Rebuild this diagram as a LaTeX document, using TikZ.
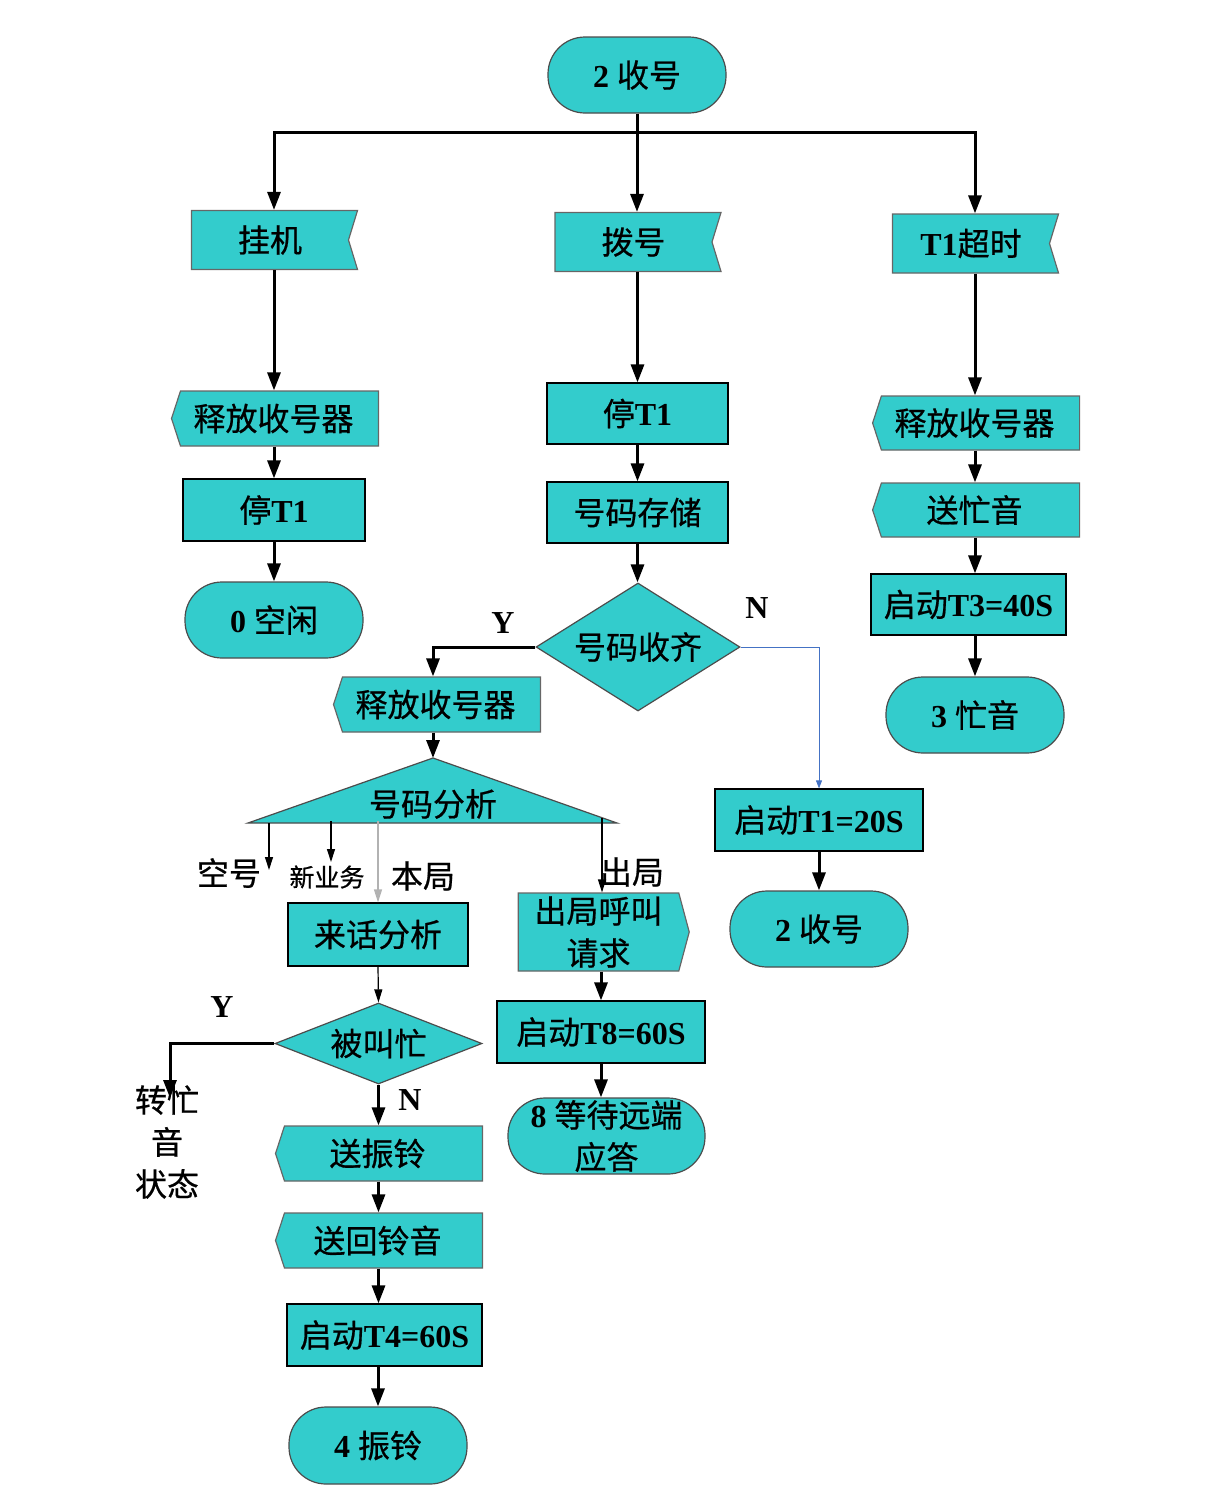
\documentclass[tikz,border=0pt]{standalone}
\usepackage{fontspec}
\setmainfont{Liberation Serif}
\newfontfamily\cjkfont{Noto Sans CJK SC}[FakeBold=0.6]
\usetikzlibrary{arrows.meta,positioning,shapes.geometric,shapes.symbols}
\definecolor{SoftTeal}{RGB}{51,204,204}
\definecolor{LineBlue}{RGB}{68,114,196}
\newcommand{\zh}[1]{{\cjkfont\mdseries #1}}

\begin{document}
\begin{tikzpicture}[x=1pt,y=-1pt,
    every node/.style={font=\fontsize{32}{42}\selectfont\bfseries, inner sep=0pt},
    term/.style={draw=black!70, fill=SoftTeal, line width=1.2pt, rounded corners=37pt, minimum width=178pt, minimum height=76pt},
    proc/.style={draw, fill=SoftTeal, line width=1.2pt, minimum width=181pt, minimum height=61pt},
    sigin/.style={signal, signal to=nowhere, signal from=east, signal pointer angle=146, draw=black!60, fill=SoftTeal, line width=1.2pt, minimum width=166pt, minimum height=59pt},
    sigout/.style={signal, signal to=west, signal from=nowhere, signal pointer angle=144, draw=black!60, fill=SoftTeal, line width=1.2pt, minimum width=207pt, minimum height=55pt, execute at end node={\kern12pt}},
    sigright/.style={signal, signal to=east, signal from=nowhere, signal pointer angle=150, draw=black!60, fill=SoftTeal, line width=1.2pt, minimum width=171pt, minimum height=78pt, align=center},
    dec/.style={diamond, draw=black!70, fill=SoftTeal, line width=1.2pt},
    lbl/.style={font=\fontsize{32}{42}\selectfont},
    arr/.style={-{Triangle[length=18pt,width=13pt]}, line width=3pt},
    thin/.style={-{Triangle[length=13pt,width=8pt]}, line width=1.2pt}
  ]
  \useasboundingbox (0,0) rectangle (1227,1494);

  % top state and the three signals
  \node[term] (start) at (637,75) {2 \zh{收号}};
  \coordinate (fork) at (637,132);
  \node[sigin] (hang) at (270,240) {\zh{挂机}};
  \node[sigin] (dial) at (633.5,242) {\zh{拨号}};
  \node[sigin] (tout) at (971,243.5) {T1\zh{超时}};

  % hang up
  \node[sigout] (relL) at (279.5,418.5) {\zh{释放收号器}};
  \node[proc, minimum width=182pt, minimum height=62pt] (stopL) at (274,510) {\zh{停}T1};
  \node[term] (idle) at (274,620) {0 \zh{空闲}};

  % dialling
  \node[proc] (stopM) at (637.5,413.5) {\zh{停}T1};
  \node[proc] (store) at (637.5,512.5) {\zh{号码存储}};
  \node[dec, aspect=1.59, minimum width=204pt, minimum height=128pt] (full) at (638,647) {\zh{号码收齐}};
  \node (yes1) at (503,623) {Y};
  \node (no1) at (757,608) {N};
  \node[sigout] (relM) at (441.5,704.5) {\zh{释放收号器}};

  % number analysis
  \draw[draw=black!70, fill=SoftTeal, line width=1.2pt] (248,823) -- (433,758) -- (617,823) -- cycle;
  \node (ana) at (433,804) {\zh{号码分析}};
  \coordinate (anatop) at (433,758);
  \coordinate (ana-kh) at (269,823);
  \coordinate (ana-xy) at (331,821);
  \coordinate (ana-bj) at (378,821);
  \coordinate (ana-cj) at (602,818);
  \coordinate (kh-end) at (269,870);
  \coordinate (xy-end) at (331,862);
  \node[lbl] (kong) at (229,873) {\zh{空号}};
  \node[font=\fontsize{25}{30}\selectfont] (xinyw) at (327,877) {\zh{新业务}};
  \node[lbl] (benju) at (423,876) {\zh{本局}};
  \node[lbl] (chuju) at (632,872) {\zh{出局}};

  % local call
  \node[proc, minimum width=180pt, minimum height=63pt] (incom) at (378,934.5) {\zh{来话分析}};
  \node[dec, aspect=2.55, minimum width=207pt, minimum height=81pt] (busy) at (378.5,1043.5) {\zh{被叫忙}};
  \node (yes2) at (222,1007) {Y};
  \node (no2) at (410,1100) {N};
  \node[lbl, align=center] (bz) at (167,1142) {\zh{转忙}\\\zh{音}\\\zh{状态}};
  \coordinate (bz-end) at (170,1098);
  \node[sigout] (ring) at (383.5,1153.5) {\zh{送振铃}};
  \node[sigout] (rback) at (383.5,1240.5) {\zh{送回铃音}};
  \node[proc, minimum width=195pt, minimum height=62pt] (t4) at (384.5,1335) {\zh{启动}T4=60S};
  \node[term, minimum height=77pt] (ringst) at (378,1445.5) {4 \zh{振铃}};

  % outgoing call
  \node[sigright] (outreq) at (598.5,932) {\zh{出局呼叫}\\\zh{请求}};
  \node[proc, minimum width=208pt, minimum height=62pt] (t8) at (601,1032) {\zh{启动}T8=60S};
  \node[term, minimum width=197pt, align=center] (wait) at (606.5,1136) {8 \zh{等待远端}\\\zh{应答}};

  % digits not complete
  \node[proc, minimum width=208pt, minimum height=62pt] (t1) at (819,820) {\zh{启动}T1=20S};
  \node[term] (recv2) at (819,929) {2 \zh{收号}};

  % T1 timeout
  \node[sigout, minimum height=54pt] (relR) at (980.5,423) {\zh{释放收号器}};
  \node[sigout, minimum height=54pt] (bsy) at (980.5,510) {\zh{送忙音}};
  \node[proc, minimum width=195pt] (t3) at (968.5,604.5) {\zh{启动}T3=40S};
  \node[term] (busyst) at (975,715) {3 \zh{忙音}};

  % connectors
  \draw[line width=3pt] (start.south) -- (fork);
  \draw[arr] (fork) -| (hang.north -| stopL);
  \draw[arr] (fork) -- (dial.north -| fork);
  \draw[arr] (fork) -| (tout.north -| busyst);

  \draw[arr] (stopL |- hang.south) -- (stopL |- relL.north);
  \draw[arr] (stopL |- relL.south) -- (stopL.north);
  \draw[arr] (stopL.south) -- (idle.north);

  \draw[arr] (stopM |- dial.south) -- (stopM.north);
  \draw[arr] (stopM.south) -- (store.north);
  \draw[arr] (store.south) -- (store.south |- full.north);
  \draw[arr] (full.west) -| (anatop |- relM.north);
  \draw[-{Triangle[length=8pt,width=6pt]}, LineBlue, line width=0.8pt] (full.east) -| (t1.north);
  \draw[arr] (anatop |- relM.south) -- (anatop);

  \draw[thin] (ana-kh) -- (kh-end);
  \draw[thin] (ana-xy) -- (xy-end);
  \draw[thin, draw=gray!60] (ana-bj) -- (incom.north);
  \draw[thin] (ana-cj) -- (ana-cj |- outreq.north);

  \draw[thin] (incom.south) -- (busy.north);
  \draw[arr] (busy.west) -| (bz-end);
  \draw[arr] (busy.south) -- (busy |- ring.north);
  \draw[arr] (busy |- ring.south) -- (busy |- rback.north);
  \draw[arr] (busy |- rback.south) -- (busy |- t4.north);
  \draw[arr] (ringst.north |- t4.south) -- (ringst.north);

  \draw[arr] (t8.north |- outreq.south) -- (t8.north);
  \draw[arr] (t8.south) -- (t8.south |- wait.north);

  \draw[arr] (t1.south) -- (recv2.north);

  \draw[arr] (busyst |- tout.south) -- (busyst |- relR.north);
  \draw[arr] (busyst |- relR.south) -- (busyst |- bsy.north);
  \draw[arr] (busyst |- bsy.south) -- (busyst |- t3.north);
  \draw[arr] (busyst.north |- t3.south) -- (busyst.north);
\end{tikzpicture}
\end{document}
